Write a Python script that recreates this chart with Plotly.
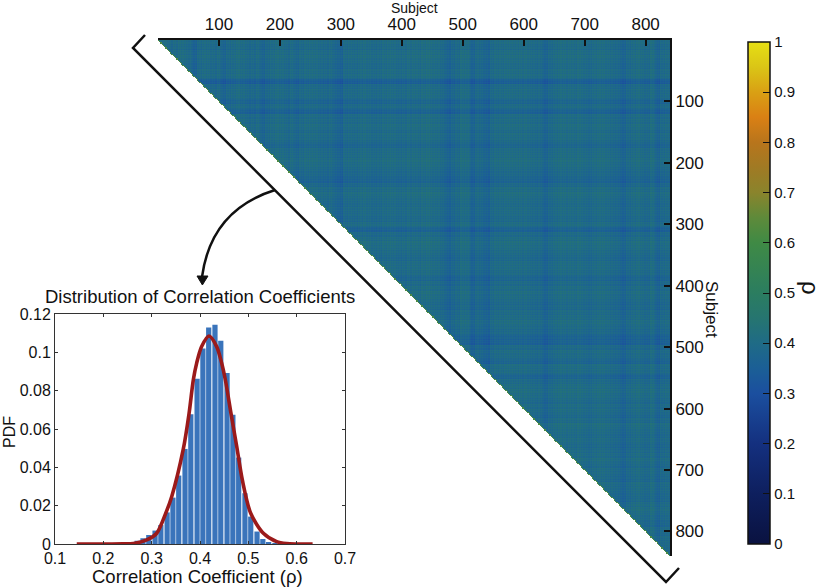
import numpy as np
import plotly.graph_objects as go

W, H = 825, 588
FONT = "Liberation Sans"

# --- histogram
bin_centers = [.232,.245,.257,.270,.282,.294,.307,.319,.332,.344,.356,.369,.381,.394,
               .406,.418,.431,.443,.456,.468,.480,.493,.505,.518,.530,.542,.555]
bin_pdf = [.0002,.0004,.0008,.0017,.003,.0047,.007,.0099,.0165,.0242,.0357,.0496,.0677,.0862,
           .102,.113,.1144,.106,.0892,.0674,.0451,.0265,.0143,.0065,.0026,.0009,.0003]
# --- fitted curve
fit_x = [.145,.20,.24,.2621,.2897,.3104,.329,.3414,.3655,.3773,.3862,.3931,.4034,.4186,
         .4345,.4448,.4524,.4642,.4759,.4876,.5049,.5311,.5587,.5793,.60,.633]
fit_y = [0,0,.0001,.0003,.0021,.0056,.016,.0247,.0496,.068,.0857,.0944,.103,.1085,
         .103,.0944,.0857,.068,.051,.0334,.016,.0056,.0012,.0002,0,0]

# --- heat map: per-band (8 subjects each) offsets of the rows and columns from the base level
base_level = 0.385
row_offset = [
 .007,.00,.007,.014,.007,.00,.007,.007,-.042,.00,.007,.007,-.021,.00,-.028,
 .007,.007,.014,.00,.007,.00,-.014,.007,.007,.014,.007,.00,-.007,-.021,-.007,
 .007,.014,.007,.00,.007,.00,-.007,.007,-.028,.00,.007,.014,.007,.00,-.007,
 .007,.007,.00,-.021,.00,.007,.014,.007,-.007,-.007,.00,.007,.014,.00,-.007,
 -.028,-.028,.00,.007,.00,-.021,.007,.007,-.021,.00,.007,.014,.007,.00,.007,
 .007,-.007,.00,.014,.007,.00,.007,-.007,.00,.007,.014,.00,.007,.00,-.007,
 .007,.007,.00,-.007,.007,.014,.007,.00,-.007,.007,.00,.007,.007,.00,.007]
col_offset = [
 .007,.007,.00,.007,.014,.007,.00,-.028,.00,.007,.007,.00,.007,-.021,.00,
 .007,.014,.007,.00,.00,.007,-.021,.00,.007,.014,.007,.00,.007,-.014,.00,
 .007,.014,.007,.00,.00,.007,-.014,-.028,.00,.007,.00,.007,.014,.007,.00,
 .00,.007,.014,.007,.00,.007,.014,.014,.007,.014,.021,.014,.007,.00,-.021,
 -.007,.00,.014,.014,-.021,.00,-.007,-.021,.00,.007,.007,.014,.014,.007,.014,
 .014,.007,.00,.00,-.021,.00,.007,.014,.014,.014,.007,.014,.007,.00,.007,
 .014,.014,.007,.00,-.007,-.021,.00,.007,.014,.007,.00,.014,-.021,.00,.007]
# the fine weave visible inside each band, one value per 2-subject cell
fine_weave = [.010,-.006,.008,-.012]
edge_level = 0.62
band_subjects = 8
cell_subjects = 2

colorscale = [[0,"#0a1240"],[.1,"#0e1f5e"],[.2,"#14307f"],[.3,"#1b4f9f"],[.35,"#1b5f96"],
              [.4,"#1f6b86"],[.45,"#267570"],[.5,"#2b7d60"],[.6,"#3f8a45"],[.65,"#5e8a3a"],
              [.7,"#8a842c"],[.75,"#a07a24"],[.8,"#b8751c"],[.85,"#da8014"],[.9,"#d9a014"],
              [.95,"#dac516"],[1,"#e6df14"]]

rep = band_subjects // cell_subjects
r = np.repeat(np.array(row_offset), rep)
c = np.repeat(np.array(col_offset), rep)
n = r.size
weave = np.resize(np.array(fine_weave), n)
z = base_level + (r + weave)[:, None] + (c + weave)[None, :]
z[np.tril_indices(n, -1)] = np.nan
z[np.diag_indices(n)] = edge_level
subj = (np.arange(n) + .5) * cell_subjects

def px(x): return x / W
def py(y): return 1 - y / H

fig = go.Figure()
fig.add_trace(go.Heatmap(
    x=subj, y=subj, z=z.astype("float32"), xaxis="x", yaxis="y", zmin=0, zmax=1,
    colorscale=colorscale, hoverongaps=False,
    colorbar=dict(x=px(748), xanchor="left", xpad=0, ypad=0,
                  y=py(544), yanchor="bottom", lenmode="fraction", len=501.5/H,
                  thicknessmode="pixels", thickness=22,
                  outlinecolor="#111", outlinewidth=1.5, borderwidth=0,
                  tickmode="array",
                  tickvals=[0,.1,.2,.3,.4,.5,.6,.7,.8,.9,1],
                  ticktext=["0","0.1","0.2","0.3","0.4","0.5","0.6","0.7","0.8","0.9","1"],
                  ticks="inside", ticklen=7, tickcolor="#111", tickwidth=1.2,
                  tickfont=dict(family=FONT, size=15, color="#111"))))
fig.add_trace(go.Bar(x=bin_centers, y=bin_pdf, xaxis="x2", yaxis="y2", width=.0108,
                     marker=dict(color="#3a74bb", line_width=0), showlegend=False))
fig.add_trace(go.Scatter(x=fit_x, y=fit_y, xaxis="x2", yaxis="y2", mode="lines",
                         line=dict(color="#9b1a1a", width=3.6, shape="spline", smoothing=.8),
                         showlegend=False))

ticks_heat = [100,200,300,400,500,600,700,800]
tf = dict(family=FONT, size=17, color="#111")
layout = dict(
    width=W, height=H, margin=dict(l=0,r=0,t=0,b=0,autoexpand=False), autosize=False,
    paper_bgcolor="white", plot_bgcolor="rgba(0,0,0,0)", showlegend=False,
    font=dict(family=FONT, color="#111"),
    xaxis=dict(domain=[px(158),px(670)], range=[0,840], side="top", anchor="y",
               tickvals=ticks_heat, ticks="inside", ticklen=6, tickwidth=2, tickcolor="#111",
               tickfont=tf, ticklabelstandoff=1, showgrid=False, zeroline=False,
               showline=True, linecolor="#111", linewidth=2),
    yaxis=dict(domain=[py(556),py(40)], range=[840,0], side="right", anchor="x",
               tickvals=ticks_heat, ticks="inside", ticklen=6, tickwidth=2, tickcolor="#111",
               tickfont=tf, showgrid=False, zeroline=False,
               showline=True, linecolor="#111", linewidth=2),
    xaxis2=dict(domain=[px(55),px(345)], range=[.1,.7], anchor="y2",
                tickvals=[.1,.2,.3,.4,.5,.6,.7],
                ticktext=["0.1","0.2","0.3","0.4","0.5","0.6","0.7"],
                ticks="inside", ticklen=3, tickcolor="#333", tickwidth=1,
                tickfont=dict(family=FONT, size=16, color="#111"),
                mirror="allticks", showline=True, linecolor="#333", linewidth=1,
                showgrid=False, zeroline=False),
    yaxis2=dict(domain=[py(544),py(314)], range=[0,.12], anchor="x2",
                tickvals=[0,.02,.04,.06,.08,.1,.12],
                ticktext=["0","0.02","0.04","0.06","0.08","0.1","0.12"],
                ticks="inside", ticklen=3, tickcolor="#333", tickwidth=1,
                tickfont=dict(family=FONT, size=16, color="#111"),
                mirror="allticks", showline=True, linecolor="#333", linewidth=1,
                showgrid=False, zeroline=False),
)
def note(text, x, y, size, angle=0):
    return dict(text=text, x=px(x), y=py(y), xref="paper", yref="paper", showarrow=False,
                xanchor="center", yanchor="middle", textangle=angle,
                font=dict(family=FONT, size=size, color="#111"))
layout["annotations"] = [
    note("Subject", 414, 8, 14),
    note("Subject", 712, 309, 17, 90),
    note("ρ", 811, 288, 24, 90),
    note("Distribution of Correlation Coefficients", 200, 296, 18.5),
    note("Correlation Coefficient (ρ)", 197, 576, 18.5),
    note("PDF", 9, 432, 16, -90),
]
def P(x, y): return f"{px(x):.5f},{py(y):.5f}"
layout["shapes"] = [
    dict(type="path", xref="paper", yref="paper",
         path=f"M{P(145,35)} L{P(133,48)} L{P(666,582)} L{P(679,568)}",
         line=dict(color="#111", width=2.5)),
    dict(type="path", xref="paper", yref="paper",
         path=f"M{P(275,190)} Q{P(211,210)} {P(202,277)}",
         line=dict(color="#111", width=2.5)),
    dict(type="path", xref="paper", yref="paper",
         path=f"M{P(197,276)} L{P(208,276)} L{P(202.4,285)} Z",
         line=dict(color="#111", width=1), fillcolor="#111"),
]
fig.update_layout(**layout)
fig.write_html("out.html", config=dict(displayModeBar=False),
               post_script="document.body.style.margin='0';")
